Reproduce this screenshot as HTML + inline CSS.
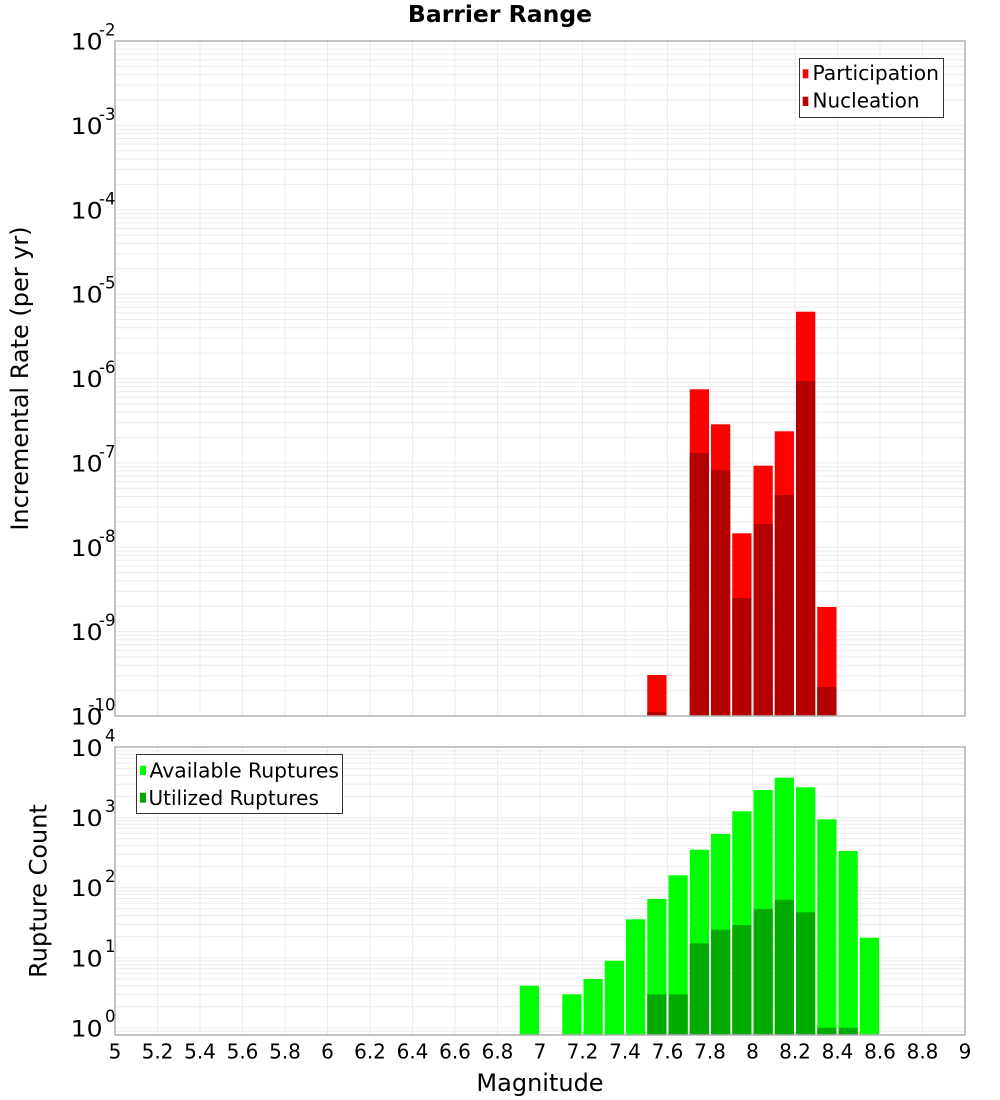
<!DOCTYPE html>
<html><head><meta charset="utf-8">
<style>
html,body{margin:0;padding:0;background:#fff;}
svg{display:block;}
text{font-family:"DejaVu Sans","Liberation Sans",sans-serif;fill:#000;}
</style></head>
<body>
<svg width="1000" height="1100" viewBox="0 0 1000 1100" xmlns="http://www.w3.org/2000/svg">
<defs>
  <clipPath id="c1"><rect x="115" y="41" width="850" height="675"/></clipPath>
  <clipPath id="c2"><rect x="115" y="747" width="850" height="288"/></clipPath>
  <g id="dA" stroke="#ebebeb" stroke-width="1">
    <line x1="115" x2="965" y1="0" y2="0"/>
    <line x1="115" x2="965" y1="-25.40" y2="-25.40"/>
    <line x1="115" x2="965" y1="-40.26" y2="-40.26"/>
    <line x1="115" x2="965" y1="-50.80" y2="-50.80"/>
    <line x1="115" x2="965" y1="-58.97" y2="-58.97"/>
    <line x1="115" x2="965" y1="-65.66" y2="-65.66"/>
    <line x1="115" x2="965" y1="-71.31" y2="-71.31"/>
    <line x1="115" x2="965" y1="-76.20" y2="-76.20"/>
    <line x1="115" x2="965" y1="-80.51" y2="-80.51"/>
  </g>
  <g id="dB" stroke="#ebebeb" stroke-width="1">
    <line x1="115" x2="965" y1="0" y2="0"/>
    <line x1="115" x2="965" y1="-21.10" y2="-21.10"/>
    <line x1="115" x2="965" y1="-33.45" y2="-33.45"/>
    <line x1="115" x2="965" y1="-42.20" y2="-42.20"/>
    <line x1="115" x2="965" y1="-49.00" y2="-49.00"/>
    <line x1="115" x2="965" y1="-54.55" y2="-54.55"/>
    <line x1="115" x2="965" y1="-59.24" y2="-59.24"/>
    <line x1="115" x2="965" y1="-63.31" y2="-63.31"/>
    <line x1="115" x2="965" y1="-66.89" y2="-66.89"/>
  </g>
</defs>

<!-- Title -->
<text x="500" y="22" font-size="23.5" font-weight="bold" text-anchor="middle">Barrier Range</text>

<!-- ===== TOP PLOT ===== -->
<g clip-path="url(#c1)">
  <use href="#dA" transform="translate(0,716)"/>
  <use href="#dA" transform="translate(0,631.625)"/>
  <use href="#dA" transform="translate(0,547.25)"/>
  <use href="#dA" transform="translate(0,462.875)"/>
  <use href="#dA" transform="translate(0,378.5)"/>
  <use href="#dA" transform="translate(0,294.125)"/>
  <use href="#dA" transform="translate(0,209.75)"/>
  <use href="#dA" transform="translate(0,125.375)"/>
  <g stroke="#ebebeb" stroke-width="1">
    <line x1="157.5" x2="157.5" y1="41" y2="716"/>
    <line x1="200" x2="200" y1="41" y2="716"/>
    <line x1="242.5" x2="242.5" y1="41" y2="716"/>
    <line x1="285" x2="285" y1="41" y2="716"/>
    <line x1="327.5" x2="327.5" y1="41" y2="716"/>
    <line x1="370" x2="370" y1="41" y2="716"/>
    <line x1="412.5" x2="412.5" y1="41" y2="716"/>
    <line x1="455" x2="455" y1="41" y2="716"/>
    <line x1="497.5" x2="497.5" y1="41" y2="716"/>
    <line x1="540" x2="540" y1="41" y2="716"/>
    <line x1="582.5" x2="582.5" y1="41" y2="716"/>
    <line x1="625" x2="625" y1="41" y2="716"/>
    <line x1="667.5" x2="667.5" y1="41" y2="716"/>
    <line x1="710" x2="710" y1="41" y2="716"/>
    <line x1="752.5" x2="752.5" y1="41" y2="716"/>
    <line x1="795" x2="795" y1="41" y2="716"/>
    <line x1="837.5" x2="837.5" y1="41" y2="716"/>
    <line x1="880" x2="880" y1="41" y2="716"/>
    <line x1="922.5" x2="922.5" y1="41" y2="716"/>
  </g>
  <g fill="#ff0000">
    <rect x="647.25" y="675" width="19.25" height="41"/>
    <rect x="689.75" y="389.3" width="19.25" height="326.7"/>
    <rect x="711" y="424.3" width="19.25" height="291.7"/>
    <rect x="732.25" y="533.3" width="19.25" height="182.7"/>
    <rect x="753.5" y="465.7" width="19.25" height="250.3"/>
    <rect x="774.75" y="431.3" width="19.25" height="284.7"/>
    <rect x="796" y="311.7" width="19.25" height="404.3"/>
    <rect x="817.25" y="607" width="19.25" height="109"/>
  </g>
  <g fill="#b40000">
    <rect x="647.25" y="712" width="19.25" height="4"/>
    <rect x="689.75" y="453" width="19.25" height="263"/>
    <rect x="711" y="470.3" width="19.25" height="245.7"/>
    <rect x="732.25" y="598" width="19.25" height="118"/>
    <rect x="753.5" y="524" width="19.25" height="192"/>
    <rect x="774.75" y="495" width="19.25" height="221"/>
    <rect x="796" y="381" width="19.25" height="335"/>
    <rect x="817.25" y="687" width="19.25" height="29"/>
  </g>
</g>
<rect x="115" y="41" width="850" height="675" fill="none" stroke="#b0b0b0" stroke-width="1.5"/>

<!-- top y tick labels -->
<g font-size="22.5">
  <text x="70.6" y="49.5" textLength="32" lengthAdjust="spacingAndGlyphs">10</text>
  <text x="70.6" y="133.9" textLength="32" lengthAdjust="spacingAndGlyphs">10</text>
  <text x="70.6" y="218.3" textLength="32" lengthAdjust="spacingAndGlyphs">10</text>
  <text x="70.6" y="302.6" textLength="32" lengthAdjust="spacingAndGlyphs">10</text>
  <text x="70.6" y="387" textLength="32" lengthAdjust="spacingAndGlyphs">10</text>
  <text x="70.6" y="471.4" textLength="32" lengthAdjust="spacingAndGlyphs">10</text>
  <text x="70.6" y="555.8" textLength="32" lengthAdjust="spacingAndGlyphs">10</text>
  <text x="70.6" y="640.1" textLength="32" lengthAdjust="spacingAndGlyphs">10</text>
  <text x="70.6" y="724.5" textLength="32" lengthAdjust="spacingAndGlyphs">10</text>
</g>
<g font-size="16.5" text-anchor="end">
  <text x="115.5" y="35.5">-2</text>
  <text x="115.5" y="119.9">-3</text>
  <text x="115.5" y="204.3">-4</text>
  <text x="115.5" y="288.6">-5</text>
  <text x="115.5" y="373">-6</text>
  <text x="115.5" y="457.4">-7</text>
  <text x="115.5" y="541.8">-8</text>
  <text x="115.5" y="626.1">-9</text>
  <text x="115.5" y="710.5">-10</text>
</g>
<text transform="translate(28,378.5) rotate(-90)" font-size="24" text-anchor="middle">Incremental Rate (per yr)</text>

<!-- top legend -->
<rect x="799.5" y="58.5" width="144" height="59" fill="#fff" stroke="#333" stroke-width="1"/>
<rect x="802.7" y="69.3" width="5.6" height="9" fill="#ff0000"/>
<rect x="802.7" y="96.7" width="5.6" height="9.3" fill="#b40000"/>
<g font-size="20">
  <text x="812.5" y="80" textLength="126.5" lengthAdjust="spacingAndGlyphs">Participation</text>
  <text x="812.5" y="107.7">Nucleation</text>
</g>

<!-- ===== BOTTOM PLOT ===== -->
<g clip-path="url(#c2)">
  <use href="#dB" transform="translate(0,1098)"/>
  <use href="#dB" transform="translate(0,1027.9)"/>
  <use href="#dB" transform="translate(0,957.8)"/>
  <use href="#dB" transform="translate(0,887.7)"/>
  <use href="#dB" transform="translate(0,817.6)"/>
  <g stroke="#ebebeb" stroke-width="1">
    <line x1="157.5" x2="157.5" y1="747" y2="1035"/>
    <line x1="200" x2="200" y1="747" y2="1035"/>
    <line x1="242.5" x2="242.5" y1="747" y2="1035"/>
    <line x1="285" x2="285" y1="747" y2="1035"/>
    <line x1="327.5" x2="327.5" y1="747" y2="1035"/>
    <line x1="370" x2="370" y1="747" y2="1035"/>
    <line x1="412.5" x2="412.5" y1="747" y2="1035"/>
    <line x1="455" x2="455" y1="747" y2="1035"/>
    <line x1="497.5" x2="497.5" y1="747" y2="1035"/>
    <line x1="540" x2="540" y1="747" y2="1035"/>
    <line x1="582.5" x2="582.5" y1="747" y2="1035"/>
    <line x1="625" x2="625" y1="747" y2="1035"/>
    <line x1="667.5" x2="667.5" y1="747" y2="1035"/>
    <line x1="710" x2="710" y1="747" y2="1035"/>
    <line x1="752.5" x2="752.5" y1="747" y2="1035"/>
    <line x1="795" x2="795" y1="747" y2="1035"/>
    <line x1="837.5" x2="837.5" y1="747" y2="1035"/>
    <line x1="880" x2="880" y1="747" y2="1035"/>
    <line x1="922.5" x2="922.5" y1="747" y2="1035"/>
  </g>
  <g fill="#00ff00">
    <rect x="519.75" y="985.7" width="19.25" height="50"/>
    <rect x="562.25" y="994.3" width="19.25" height="41"/>
    <rect x="583.5" y="979" width="19.25" height="56"/>
    <rect x="604.75" y="960.7" width="19.25" height="75"/>
    <rect x="626" y="919.3" width="19.25" height="116"/>
    <rect x="647.25" y="899" width="19.25" height="136"/>
    <rect x="668.5" y="875.3" width="19.25" height="160"/>
    <rect x="689.75" y="849.7" width="19.25" height="186"/>
    <rect x="711" y="834" width="19.25" height="201"/>
    <rect x="732.25" y="811.3" width="19.25" height="224"/>
    <rect x="753.5" y="790" width="19.25" height="245"/>
    <rect x="774.75" y="777.7" width="19.25" height="258"/>
    <rect x="796" y="787.3" width="19.25" height="248"/>
    <rect x="817.25" y="819.3" width="19.25" height="216"/>
    <rect x="838.5" y="851" width="19.25" height="184"/>
    <rect x="859.75" y="937.7" width="19.25" height="98"/>
  </g>
  <g fill="#00aa00">
    <rect x="647.25" y="994.3" width="19.25" height="41"/>
    <rect x="668.5" y="994.3" width="19.25" height="41"/>
    <rect x="689.75" y="943.3" width="19.25" height="92"/>
    <rect x="711" y="929.7" width="19.25" height="106"/>
    <rect x="732.25" y="925" width="19.25" height="110"/>
    <rect x="753.5" y="909" width="19.25" height="126"/>
    <rect x="774.75" y="899.7" width="19.25" height="136"/>
    <rect x="796" y="912.3" width="19.25" height="123"/>
    <rect x="817.25" y="1027.7" width="19.25" height="8"/>
    <rect x="838.5" y="1027.7" width="19.25" height="8"/>
  </g>
</g>
<rect x="115" y="747" width="850" height="288" fill="none" stroke="#b0b0b0" stroke-width="1.5"/>

<!-- bottom y tick labels -->
<g font-size="22.5">
  <text x="70.6" y="756" textLength="32" lengthAdjust="spacingAndGlyphs">10</text>
  <text x="70.6" y="826.1" textLength="32" lengthAdjust="spacingAndGlyphs">10</text>
  <text x="70.6" y="896.2" textLength="32" lengthAdjust="spacingAndGlyphs">10</text>
  <text x="70.6" y="966.3" textLength="32" lengthAdjust="spacingAndGlyphs">10</text>
  <text x="70.6" y="1036.4" textLength="32" lengthAdjust="spacingAndGlyphs">10</text>
</g>
<g font-size="16.5" text-anchor="end">
  <text x="115.5" y="741.7">4</text>
  <text x="115.5" y="811.8">3</text>
  <text x="115.5" y="881.9">2</text>
  <text x="115.5" y="952">1</text>
  <text x="115.5" y="1022.1">0</text>
</g>
<text transform="translate(46.5,891) rotate(-90)" font-size="24" text-anchor="middle">Rupture Count</text>

<!-- bottom legend -->
<rect x="136.5" y="754.5" width="206" height="59" fill="#fff" stroke="#333" stroke-width="1"/>
<rect x="140" y="765.7" width="6" height="9.3" fill="#00ff00"/>
<rect x="140" y="792.7" width="6" height="10" fill="#00aa00"/>
<g font-size="20">
  <text x="149.5" y="777.3" textLength="189.5" lengthAdjust="spacingAndGlyphs">Available Ruptures</text>
  <text x="148.5" y="805">Utilized Ruptures</text>
</g>

<!-- x tick labels -->
<g font-size="20" text-anchor="middle">
  <text x="115" y="1058.3">5</text>
  <text x="157.5" y="1058.3">5.2</text>
  <text x="200" y="1058.3">5.4</text>
  <text x="242.5" y="1058.3">5.6</text>
  <text x="285" y="1058.3">5.8</text>
  <text x="327.5" y="1058.3">6</text>
  <text x="370" y="1058.3">6.2</text>
  <text x="412.5" y="1058.3">6.4</text>
  <text x="455" y="1058.3">6.6</text>
  <text x="497.5" y="1058.3">6.8</text>
  <text x="540" y="1058.3">7</text>
  <text x="582.5" y="1058.3">7.2</text>
  <text x="625" y="1058.3">7.4</text>
  <text x="667.5" y="1058.3">7.6</text>
  <text x="710" y="1058.3">7.8</text>
  <text x="752.5" y="1058.3">8</text>
  <text x="795" y="1058.3">8.2</text>
  <text x="837.5" y="1058.3">8.4</text>
  <text x="880" y="1058.3">8.6</text>
  <text x="922.5" y="1058.3">8.8</text>
  <text x="965" y="1058.3">9</text>
</g>
<text x="540" y="1091" font-size="24" text-anchor="middle">Magnitude</text>
</svg>
</body></html>
